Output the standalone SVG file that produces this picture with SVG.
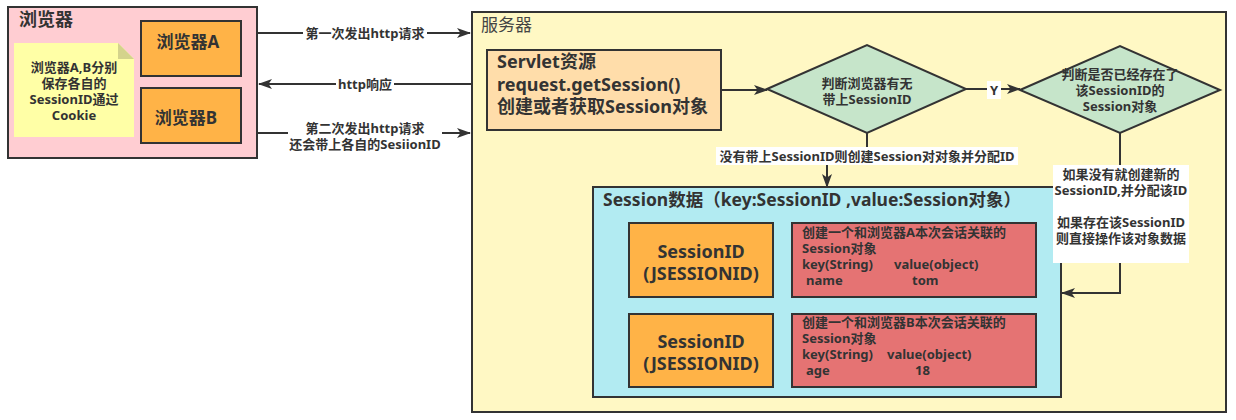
<svg xmlns="http://www.w3.org/2000/svg" width="1236" height="420" viewBox="0 0 1236 420">
<style>
text{font-family:"Noto Sans","Noto Sans CJK SC",sans-serif;fill:#333;font-weight:bold}
.box{stroke:#333;stroke-width:2}
.c{text-anchor:middle;dominant-baseline:central}
.s13{font-size:13px}
.s14{font-size:13px}
.s17{font-size:17px}
.s18{font-size:18px}
.edge{fill:none;stroke:#333;stroke-width:2}
.lbl{fill:#fff}
</style>
<defs>
<marker id="ah" markerWidth="14" markerHeight="10" refX="13" refY="5" orient="auto" markerUnits="userSpaceOnUse">
<path d="M0,0 L14,5 L0,10 L3.5,5 Z" fill="#333"/>
</marker>
</defs>
<rect width="1236" height="420" fill="#fff"/>

<g id="browser">
<rect class="box" x="8" y="7" width="249" height="151" fill="#FFCDD2"/>
<text class="s18" x="19" y="26">浏览器</text>
</g>
<g id="note">
<path d="M14,43 H118 L134,59 V137 H14 Z" fill="#FFFFA6"/>
<path d="M118,43 V59 H134 Z" fill="#D4D38C"/>
<text class="c s13" x="74" y="67">浏览器A,B分别</text>
<text class="c s13" x="74" y="83">保存各自的</text>
<text class="c s13" x="74" y="99">SessionID通过</text>
<text class="c s13" x="74" y="115">Cookie</text>
</g>
<g id="browserA">
<rect class="box" x="141" y="21" width="100" height="55" fill="#FFB347"/>
<text class="c s17" x="188" y="41">浏览器A</text>
</g>
<g id="browserB">
<rect class="box" x="141" y="88" width="100" height="55" fill="#FFB347"/>
<text class="c s17" x="186" y="117">浏览器B</text>
</g>

<g id="server">
<rect class="box" x="472" y="12" width="754" height="400" fill="#FFF8C4"/>
<text x="481" y="31" style="font-size:17px;font-weight:normal;fill:#444">服务器</text>
</g>
<g id="servlet">
<rect class="box" x="487" y="50" width="234" height="80" fill="#FFDDAA"/>
<text class="s18" x="497" y="68">Servlet资源</text>
<text class="s18" x="497" y="91">request.getSession()</text>
<text class="s18" x="497" y="113">创建或者获取Session对象</text>
</g>
<g id="decision1">
<polygon class="box" points="767,89 867,45 966,89 867,133" fill="#C6E5CA"/>
<text class="c s13" x="867" y="83">判断浏览器有无</text>
<text class="c s13" x="867" y="99">带上SessionID</text>
</g>
<g id="decision2">
<polygon class="box" points="1020,90 1120,46 1220,90 1120,133" fill="#C6E5CA"/>
<text class="c s13" x="1120" y="74">判断是否已经存在了</text>
<text class="c s13" x="1120" y="90">该SessionID的</text>
<text class="c s13" x="1120" y="106">Session对象</text>
</g>
<g id="sessionData">
<rect class="box" x="593" y="187" width="468" height="210" fill="#B2EBF2"/>
<text x="603" y="206" style="font-size:17.5px">Session数据（key:SessionID ,value:Session对象）</text>
</g>
<g id="sessionIdA">
<rect class="box" x="629" y="223" width="144" height="74" fill="#FFB347"/>
<text class="c s18" x="701" y="251">SessionID</text>
<text class="c s18" x="701" y="273">(JSESSIONID)</text>
</g>
<g id="sessionObjA">
<rect class="box" x="792" y="223" width="244" height="74" fill="#E57373"/>
<text class="s14" x="802" y="237">创建一个和浏览器A本次会话关联的</text>
<text class="s14" x="802" y="253">Session对象</text>
<text class="s14" x="802" y="269">key(String)</text>
<text class="s14" x="894" y="269">value(object)</text>
<text class="s14" x="806" y="285">name</text>
<text class="s14" x="912" y="285">tom</text>
</g>
<g id="sessionIdB">
<rect class="box" x="629" y="314" width="144" height="73" fill="#FFB347"/>
<text class="c s18" x="701" y="341">SessionID</text>
<text class="c s18" x="701" y="363">(JSESSIONID)</text>
</g>
<g id="sessionObjB">
<rect class="box" x="792" y="314" width="244" height="73" fill="#E57373"/>
<text class="s14" x="802" y="327">创建一个和浏览器B本次会话关联的</text>
<text class="s14" x="802" y="343">Session对象</text>
<text class="s14" x="802" y="359">key(String)</text>
<text class="s14" x="887" y="359">value(object)</text>
<text class="s14" x="806" y="375">age</text>
<text class="s14" x="915" y="375">18</text>
</g>

<g id="connectors">
<line class="edge" x1="257" y1="33" x2="470" y2="33" marker-end="url(#ah)"/>
<rect class="lbl" x="303" y="25" width="124" height="17"/>
<text class="c s13" x="365" y="33">第一次发出http请求</text>

<line class="edge" x1="472" y1="84" x2="259" y2="84" marker-end="url(#ah)"/>
<rect class="lbl" x="336" y="76" width="58" height="17"/>
<text class="c s13" x="365" y="84">http响应</text>

<line class="edge" x1="257" y1="133" x2="470" y2="133" marker-end="url(#ah)"/>
<rect class="lbl" x="288" y="119" width="154" height="33"/>
<text class="c s13" x="365" y="128">第二次发出http请求</text>
<text class="c s13" x="365" y="144">还会带上各自的SesiionID</text>

<line class="edge" x1="721" y1="90" x2="767" y2="90" marker-end="url(#ah)"/>

<line class="edge" x1="966" y1="89" x2="1020" y2="89" marker-end="url(#ah)"/>
<rect class="lbl" x="987" y="81" width="14" height="18"/>
<text class="c s13" x="994" y="90">Y</text>

<path class="edge" d="M867,133 V156 H827 V187" marker-end="url(#ah)"/>
<rect class="lbl" x="716" y="147" width="302" height="18"/>
<text class="c s13" x="867" y="156">没有带上SessionID则创建Session对对象并分配ID</text>

<path class="edge" d="M1120,133 V293 H1062" marker-end="url(#ah)"/>
<rect class="lbl" x="1053" y="165" width="136" height="98"/>
<text class="c s13" x="1121" y="174">如果没有就创建新的</text>
<text class="c s13" x="1121" y="190">SessionID,并分配该ID</text>
<text class="c s13" x="1121" y="222">如果存在该SessionID</text>
<text class="c s13" x="1121" y="238">则直接操作该对象数据</text>
</g>
</svg>
